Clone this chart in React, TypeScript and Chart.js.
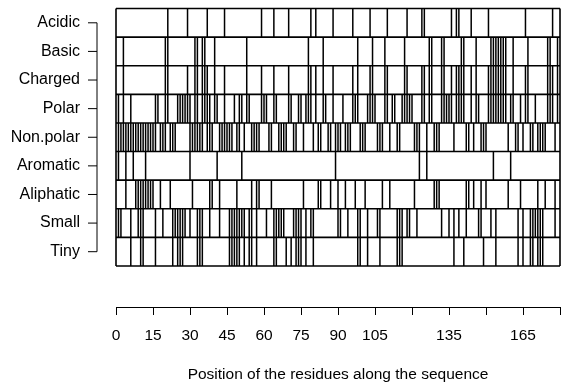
import { useEffect, useRef } from "react";
import { Chart, registerables } from "chart.js";

Chart.register(...registerables);

// Residue properties, top row first
const propertyNames = ["Acidic", "Basic", "Charged", "Polar", "Non.polar", "Aromatic", "Aliphatic", "Small", "Tiny"];
const sequenceLength = 180;
const positionTicks = [0, 15, 30, 45, 60, 75, 90, 105, 120, 135, 150, 165, 180];
const unlabelledTicks = [120, 150, 180];
const xAxisTitle = "Position of the residues along the sequence";

// Positions (residue index) carrying each property
const acidic = [21, 29, 37, 44, 59, 64, 70, 79, 81, 88, 96, 103, 110, 118, 124, 125, 136, 138, 139, 144, 151, 166, 177];
const basic = [3, 20, 21, 32, 33, 35, 36, 40, 53, 78, 84, 98, 104, 109, 117, 127, 128, 132, 133, 140, 141, 146, 152, 153, 154, 155, 156, 157, 158, 161, 167, 175, 176, 179];
const charged = [3, 20, 21, 29, 32, 33, 35, 36, 37, 40, 44, 53, 59, 64, 70, 78, 79, 81, 84, 88, 96, 98, 103, 104, 109, 110, 117, 118, 124, 125, 127, 128, 132, 133, 136, 138, 139, 140, 141, 144, 146, 151, 152, 153, 154, 155, 156, 157, 158, 161, 166, 167, 175, 176, 177, 179];
const polar = [1, 3, 6, 16, 17, 20, 21, 25, 26, 27, 28, 29, 30, 32, 33, 35, 36, 37, 38, 40, 41, 44, 48, 50, 51, 53, 54, 59, 60, 61, 64, 65, 70, 71, 74, 75, 77, 78, 79, 81, 84, 85, 88, 92, 96, 97, 98, 102, 103, 104, 105, 109, 110, 112, 113, 116, 117, 118, 119, 120, 124, 125, 127, 128, 132, 133, 134, 135, 136, 138, 139, 140, 141, 144, 146, 147, 151, 152, 153, 154, 155, 156, 157, 158, 160, 161, 164, 166, 167, 170, 175, 176, 177, 179];
const nonPolar = [1, 2, 3, 4, 5, 6, 7, 8, 9, 10, 11, 12, 13, 14, 15, 16, 18, 19, 20, 22, 23, 24, 30, 31, 32, 33, 34, 35, 37, 38, 39, 42, 43, 44, 45, 46, 47, 49, 50, 52, 55, 56, 57, 58, 62, 63, 66, 67, 68, 69, 72, 73, 76, 80, 82, 83, 86, 87, 89, 90, 91, 93, 94, 95, 99, 100, 101, 106, 107, 108, 111, 114, 115, 121, 122, 123, 126, 129, 130, 131, 137, 142, 143, 145, 148, 149, 150, 159, 162, 163, 165, 168, 169, 171, 172, 173, 174, 178];
const aromatic = [1, 4, 7, 12, 30, 41, 51, 89, 123, 126, 153, 160];
const aliphatic = [4, 8, 9, 10, 11, 12, 13, 14, 15, 18, 22, 31, 38, 39, 42, 49, 55, 57, 58, 63, 76, 82, 83, 87, 90, 93, 97, 101, 108, 111, 121, 129, 130, 131, 142, 143, 145, 148, 150, 159, 164, 171, 174, 178];
const small = [1, 2, 6, 9, 10, 11, 16, 19, 23, 24, 25, 26, 27, 28, 30, 33, 34, 35, 38, 42, 46, 47, 48, 49, 50, 51, 52, 54, 55, 57, 61, 64, 65, 66, 67, 68, 72, 73, 74, 75, 77, 79, 80, 90, 91, 94, 98, 99, 102, 106, 107, 114, 115, 116, 118, 119, 122, 132, 135, 137, 139, 142, 147, 148, 152, 154, 163, 165, 168, 169, 170, 171, 172, 173, 178];
const tiny = [6, 10, 11, 16, 23, 25, 26, 27, 33, 34, 35, 46, 47, 48, 49, 50, 52, 54, 55, 57, 64, 65, 69, 71, 73, 74, 75, 77, 80, 98, 99, 102, 107, 114, 115, 116, 137, 141, 149, 154, 163, 165, 168, 169, 171, 172, 173];

const propertyRows = [acidic, basic, charged, polar, nonPolar, aromatic, aliphatic, small, tiny];

// Detached axes, placed in data units outside the plotting box
const Y_AXIS_AT = -7.7;
const Y_TICK_END = -11.35;
const X_AXIS_AT = -1.433;

const FONT_FAMILY = '"Liberation Sans", Arial, Helvetica, sans-serif';
const INK = "#000";

type Pt = { x: number; y: number | null };

function stripes(positions: number[], base: number): Pt[] {
  const pts: Pt[] = [];
  for (const p of positions) {
    pts.push({ x: p, y: base }, { x: p, y: base + 1 }, { x: p, y: null });
  }
  return pts;
}

function rowFrames(rowCount: number, length: number): Pt[] {
  const pts: Pt[] = [];
  for (let k = 0; k <= rowCount; k++) {
    pts.push({ x: 0, y: k }, { x: length, y: k }, { x: 0, y: null });
  }
  pts.push({ x: 0, y: 0 }, { x: 0, y: rowCount }, { x: 0, y: null });
  pts.push({ x: length, y: 0 }, { x: length, y: rowCount }, { x: length, y: null });
  return pts;
}

function yAxisMarks(rowCount: number): Pt[] {
  const pts: Pt[] = [
    { x: Y_AXIS_AT, y: 0.5 },
    { x: Y_AXIS_AT, y: rowCount - 0.5 },
    { x: Y_AXIS_AT, y: null },
  ];
  for (let i = 0; i < rowCount; i++) {
    const c = i + 0.5;
    pts.push({ x: Y_TICK_END, y: c }, { x: Y_AXIS_AT, y: c }, { x: Y_AXIS_AT, y: null });
  }
  return pts;
}

function lineSet(data: Pt[], width: number) {
  return {
    data,
    showLine: true,
    borderColor: INK,
    borderWidth: width,
    pointRadius: 0,
    pointHoverRadius: 0,
    spanGaps: false,
    clip: false as const,
  };
}

export default function App() {
  const canvasRef = useRef<HTMLCanvasElement | null>(null);

  useEffect(() => {
    document.body.style.margin = "0";
    const canvas = canvasRef.current;
    if (!canvas) return;
    const rowCount = propertyNames.length;

    const datasets: any[] = propertyRows.map((positions, i) =>
      lineSet(stripes(positions, rowCount - 1 - i), 1.5)
    );
    datasets.push(lineSet(rowFrames(rowCount, sequenceLength), 1.6));
    datasets.push(lineSet(yAxisMarks(rowCount), 1));

    const chart = new Chart(canvas, {
      type: "scatter",
      data: { datasets },
      options: {
        animation: false,
        responsive: false,
        maintainAspectRatio: false,
        devicePixelRatio: 1,
        events: [],
        layout: { padding: { left: 0, right: 3, top: 8.5, bottom: 0 } },
        plugins: { legend: { display: false }, tooltip: { enabled: false } },
        scales: {
          x: {
            type: "linear",
            min: 0,
            max: sequenceLength,
            afterBuildTicks: (s: any) => {
              s.ticks = positionTicks.map((v) => ({ value: v }));
            },
            afterFit: (s: any) => {
              s.height = 75;
              s.paddingLeft = 0;
              s.paddingRight = 0;
            },
            border: { display: true, color: INK, width: 1 },
            grid: { drawOnChartArea: false, tickLength: 8, color: INK, lineWidth: 1 },
            ticks: {
              autoSkip: false,
              maxRotation: 0,
              padding: 11,
              color: INK,
              font: { family: FONT_FAMILY, size: 15.5 },
              callback: (v: any) => (unlabelledTicks.includes(Number(v)) ? "" : String(v)),
            },
            title: {
              display: true,
              text: xAxisTitle,
              color: INK,
              font: { family: FONT_FAMILY, size: 15.5 },
              padding: { top: 0, bottom: -2 },
            },
          },
          y: {
            type: "linear",
            min: X_AXIS_AT,
            max: rowCount,
            afterBuildTicks: (s: any) => {
              s.ticks = propertyNames.map((_, i) => ({ value: rowCount - 0.5 - i }));
            },
            afterFit: (s: any) => {
              s.width = 116;
              s.paddingTop = 0;
              s.paddingBottom = 0;
            },
            border: { display: false },
            grid: { display: false, drawTicks: false },
            ticks: {
              autoSkip: false,
              padding: 36,
              color: INK,
              font: { family: FONT_FAMILY, size: 16 },
              callback: (v: any) => {
                const idx = Math.round(rowCount - 0.5 - Number(v));
                return propertyNames[idx] ?? "";
              },
            },
          },
        },
      },
    });

    return () => chart.destroy();
  }, []);

  return <canvas ref={canvasRef} width={563} height={382} style={{ display: "block" }} />;
}
